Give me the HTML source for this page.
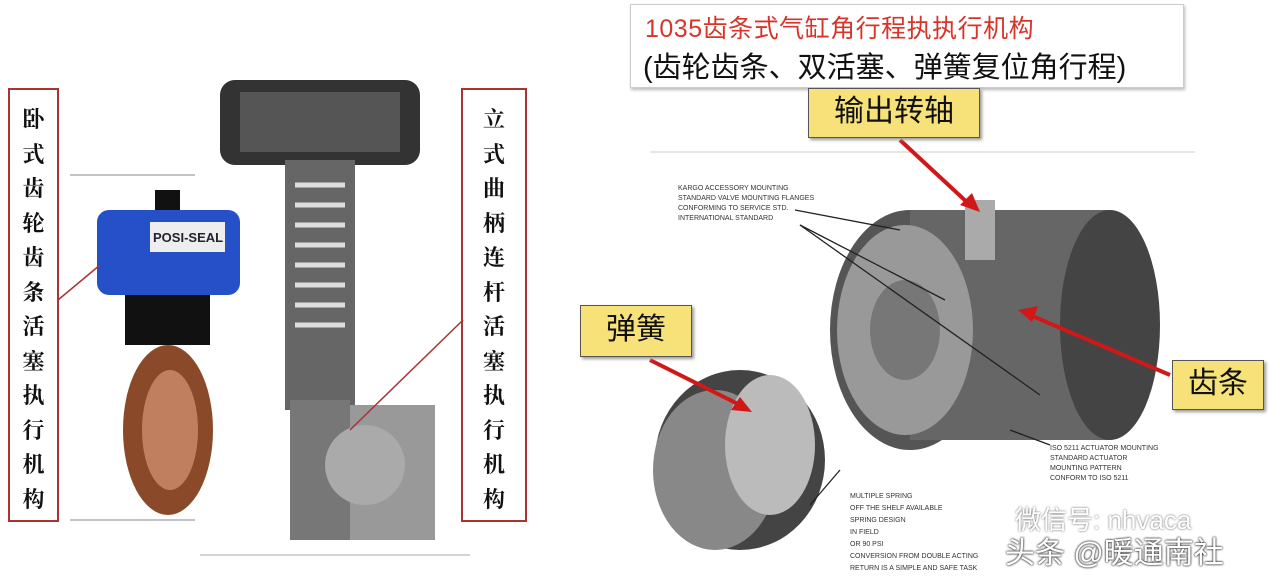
<!DOCTYPE html>
<html><head><meta charset="utf-8"><style>
body{margin:0;width:1280px;height:578px;background:#fff;position:relative;overflow:hidden;font-family:"Liberation Sans","Noto Sans CJK SC",sans-serif}
.a{position:absolute}
.vt{position:absolute;border:2px solid #a33;font-family:"Noto Serif CJK SC",serif;font-size:22px;font-weight:bold;text-align:center;line-height:34.5px;padding-top:12px;box-sizing:border-box;color:#111;overflow:hidden}
.lbl{position:absolute;background:#f7e27a;border:1.5px solid #555;font-size:30px;text-align:center;color:#111;box-shadow:2px 2px 3px #999}
</style></head><body>
<div class="vt" style="left:8px;top:88px;width:51px;height:434px">卧<br>式<br>齿<br>轮<br>齿<br>条<br>活<br>塞<br>执<br>行<br>机<br>构</div>
<div class="vt" style="left:461px;top:88px;width:66px;height:434px">立<br>式<br>曲<br>柄<br>连<br>杆<br>活<br>塞<br>执<br>行<br>机<br>构</div>
<svg class="a" style="left:0;top:0" width="1280" height="578">
<line x1="70" y1="175" x2="195" y2="175" stroke="#888"/>
<line x1="70" y1="520" x2="195" y2="520" stroke="#888"/>
<line x1="200" y1="555" x2="470" y2="555" stroke="#aaa"/>
<rect x="125" y="295" width="85" height="50" fill="#111"/>
<ellipse cx="168" cy="430" rx="45" ry="85" fill="#8a4a2a"/>
<ellipse cx="170" cy="430" rx="28" ry="60" fill="#c08060"/>
<rect x="97" y="210" width="143" height="85" rx="12" fill="#2550c8"/>
<rect x="150" y="222" width="75" height="30" fill="#eee"/>
<text x="153" y="242" font-size="13" font-weight="bold" fill="#223">POSI-SEAL</text>
<rect x="155" y="190" width="25" height="20" fill="#111"/>
<line x1="58" y1="300" x2="100" y2="265" stroke="#a33" stroke-width="1.5"/>
<rect x="220" y="80" width="200" height="85" rx="15" fill="#333"/>
<rect x="240" y="92" width="160" height="60" fill="#555"/>
<rect x="285" y="160" width="70" height="250" fill="#666"/>
<g stroke="#ddd" stroke-width="5">
<line x1="295" y1="185" x2="345" y2="185"/><line x1="295" y1="205" x2="345" y2="205"/><line x1="295" y1="225" x2="345" y2="225"/><line x1="295" y1="245" x2="345" y2="245"/><line x1="295" y1="265" x2="345" y2="265"/><line x1="295" y1="285" x2="345" y2="285"/><line x1="295" y1="305" x2="345" y2="305"/><line x1="295" y1="325" x2="345" y2="325"/></g>
<rect x="290" y="400" width="60" height="140" fill="#777"/>
<rect x="350" y="405" width="85" height="135" fill="#999"/>
<circle cx="365" cy="465" r="40" fill="#aaa"/>
<line x1="463" y1="320" x2="350" y2="430" stroke="#a33" stroke-width="1.5"/>
<line x1="650" y1="152" x2="1195" y2="152" stroke="#ccc"/>
<ellipse cx="910" cy="330" rx="80" ry="120" fill="#555"/>
<rect x="910" y="210" width="200" height="230" fill="#666"/>
<ellipse cx="1110" cy="325" rx="50" ry="115" fill="#444"/>
<ellipse cx="905" cy="330" rx="68" ry="105" fill="#999"/>
<ellipse cx="905" cy="330" rx="35" ry="50" fill="#777"/>
<rect x="965" y="200" width="30" height="60" fill="#aaa"/>
<ellipse cx="740" cy="460" rx="85" ry="90" fill="#444"/>
<ellipse cx="715" cy="470" rx="62" ry="80" fill="#888"/>
<ellipse cx="770" cy="445" rx="45" ry="70" fill="#bbb"/>
<g stroke="#222" stroke-width="1.3" fill="none">
<polyline points="795,210 900,230"/><polyline points="800,225 1040,395"/><polyline points="800,225 945,300"/><polyline points="1010,430 1050,445"/><polyline points="810,505 840,470"/>
</g>
<g stroke="#d01818" stroke-width="4">
<line x1="900" y1="140" x2="970" y2="205"/><line x1="1170" y1="375" x2="1030" y2="315"/><line x1="650" y1="360" x2="740" y2="405"/>
</g>
<polygon points="980,212 960,205 972,193" fill="#d01818"/>
<polygon points="1018,310 1038,306 1032,322" fill="#d01818"/>
<polygon points="752,412 731,410 740,397" fill="#d01818"/>
<g font-size="7" fill="#333">
<text x="678" y="190">KARGO ACCESSORY MOUNTING</text><text x="678" y="200">STANDARD VALVE MOUNTING FLANGES</text><text x="678" y="210">CONFORMING TO SERVICE STD.</text><text x="678" y="220">INTERNATIONAL STANDARD</text>
<text x="1050" y="450">ISO 5211 ACTUATOR MOUNTING</text><text x="1050" y="460">STANDARD ACTUATOR</text><text x="1050" y="470">MOUNTING PATTERN</text><text x="1050" y="480">CONFORM TO ISO 5211</text>
<text x="850" y="498">MULTIPLE SPRING</text><text x="850" y="510">OFF THE SHELF AVAILABLE</text><text x="850" y="522">SPRING DESIGN</text><text x="850" y="534">IN FIELD</text><text x="850" y="546">OR 90 PSI</text><text x="850" y="558">CONVERSION FROM DOUBLE ACTING</text><text x="850" y="570">RETURN IS A SIMPLE AND SAFE TASK</text>
</g>
</svg>
<div class="a" style="left:630px;top:4px;width:552px;height:82px;border:1px solid #ccc;box-shadow:1px 2px 3px #bbb;background:#fff"></div>
<div class="a" style="left:645px;top:9px;font-size:25px;color:#d8352a;letter-spacing:0.5px">1035齿条式气缸角行程执执行机构</div>
<div class="a" style="left:643px;top:44px;font-size:29px;color:#111">(齿轮齿条、双活塞、弹簧复位角行程)</div>
<div class="lbl" style="left:808px;top:88px;width:170px;height:48px;line-height:46px">输出转轴</div>
<div class="lbl" style="left:580px;top:305px;width:110px;height:50px;line-height:48px">弹簧</div>
<div class="lbl" style="left:1172px;top:360px;width:90px;height:48px;line-height:46px">齿条</div>
<div class="a" style="left:1015px;top:500px;font-size:26px;color:#fff;text-shadow:0 0 2px #555">微信号: nhvaca</div>
<div class="a" style="left:1005px;top:528px;font-size:30px;color:#fff;text-shadow:0 0 2px #333,0 0 2px #333">头条 @暖通南社</div>
</body></html>
